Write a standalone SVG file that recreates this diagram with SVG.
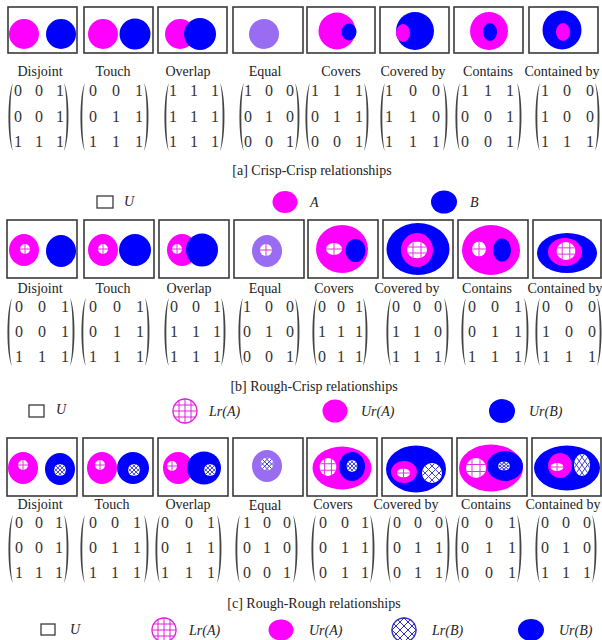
<svg xmlns="http://www.w3.org/2000/svg" xmlns:xlink="http://www.w3.org/1999/xlink" width="602" height="640" viewBox="0 0 602 640" font-family="'Liberation Serif', 'Times New Roman', serif">
<style>
.box{fill:#fff;stroke:#3a3a3a;stroke-width:1.6}
.lbl{font-family:'Liberation Serif','Times New Roman',serif;font-size:14px;fill:#222;text-anchor:middle}
.d{font-family:'Liberation Serif','Times New Roman',serif;font-size:16px;fill:#333;text-anchor:middle}
.cap{font-family:'Liberation Serif','Times New Roman',serif;font-size:14px;fill:#222;text-anchor:middle}
.leg{font-family:'Liberation Serif','Times New Roman',serif;font-size:14px;font-style:italic;fill:#222}
.pa{fill:#444}
.A{fill:#ff00ff}.B{fill:#0000ff}.E{fill:#9a6cf2}
.ga{fill:none;stroke:#e030e0;stroke-width:1;vector-effect:non-scaling-stroke}
.gb{fill:none;stroke:#4040d0;stroke-width:1;vector-effect:non-scaling-stroke}
</style>
<defs>
<clipPath id="c10"><circle r="10"/></clipPath>
<clipPath id="c13"><circle r="12.5"/></clipPath>
<symbol id="hA1" viewBox="-10 -10 20 20" preserveAspectRatio="none">
<circle r="10" fill="#fff"/>
<path class="ga" d="M0-10V10M-10 0H10"/>
</symbol>
<symbol id="hA2" viewBox="-10 -10 20 20" preserveAspectRatio="none">
<circle r="10" fill="#fff"/>
<path class="ga" clip-path="url(#c10)" d="M-4-10V10M4-10V10M-10-3.5H10M-10 3.5H10"/>
</symbol>
<symbol id="hB" viewBox="-10 -10 20 20" preserveAspectRatio="none">
<circle r="10" fill="#fff"/>
<path class="gb" clip-path="url(#c10)" d="M-15-8L15 22M-15-15L15 15M-15-22L15 8M-15 8L15-22M-15 15L15-15M-15 22L15-8"/>
</symbol>
<path id="pl" d="M3,0 C-3,10 -3,58 3,68 C-0.5,58 -0.5,10 3,0Z"/>
<path id="pr" d="M-3,0 C3,10 3,58 -3,68 C0.5,58 0.5,10 -3,0Z"/>
</defs>

<!-- ===== Row a: Crisp-Crisp ===== -->
<g id="a-disjoint">
<rect class="box" x="8" y="7" width="69" height="46"/>
<circle class="A" cx="24" cy="34" r="15"/><circle class="B" cx="61" cy="34" r="15"/>
<text class="lbl" x="40" y="76">Disjoint</text>
<use href="#pl" class="pa" x="10" y="83"/><use href="#pr" class="pa" x="67" y="83"/>
<text class="d" x="18 39 60" y="96">001</text><text class="d" x="18 39 60" y="122">001</text><text class="d" x="18 39 60" y="147">111</text>
</g>
<g id="a-touch">
<rect class="box" x="84" y="7" width="69" height="46"/>
<circle class="A" cx="103" cy="34" r="15"/><circle class="B" cx="135" cy="34" r="15.5"/>
<text class="lbl" x="113" y="76">Touch</text>
<use href="#pl" class="pa" x="82" y="83"/><use href="#pr" class="pa" x="147" y="83"/>
<text class="d" x="93 116 139" y="96">001</text><text class="d" x="93 116 139" y="122">011</text><text class="d" x="93 116 139" y="147">111</text>
</g>
<g id="a-overlap">
<rect class="box" x="158" y="7" width="69" height="46"/>
<circle class="A" cx="180" cy="34" r="15"/><circle class="B" cx="200" cy="34" r="16"/>
<text class="lbl" x="188" y="76">Overlap</text>
<use href="#pl" class="pa" x="166" y="83"/><use href="#pr" class="pa" x="223" y="83"/>
<text class="d" x="173 194 215" y="96">111</text><text class="d" x="173 194 215" y="122">111</text><text class="d" x="173 194 215" y="147">111</text>
</g>
<g id="a-equal">
<rect class="box" x="233" y="7" width="70" height="46"/>
<circle class="E" cx="264" cy="34" r="15"/>
<text class="lbl" x="265" y="76">Equal</text>
<use href="#pl" class="pa" x="241" y="83"/><use href="#pr" class="pa" x="298" y="83"/>
<text class="d" x="248 269 290" y="96">100</text><text class="d" x="248 269 290" y="122">010</text><text class="d" x="248 269 290" y="147">001</text>
</g>
<g id="a-covers">
<rect class="box" x="307" y="7" width="68" height="46"/>
<circle class="A" cx="337" cy="31" r="18.5"/><ellipse class="B" cx="349" cy="32" rx="7.5" ry="8.5"/>
<text class="lbl" x="341" y="76">Covers</text>
<use href="#pl" class="pa" x="307" y="83"/><use href="#pr" class="pa" x="367" y="83"/>
<text class="d" x="315 337 359" y="96">111</text><text class="d" x="315 337 359" y="122">011</text><text class="d" x="315 337 359" y="147">001</text>
</g>
<g id="a-coveredby">
<rect class="box" x="380" y="7" width="69" height="46"/>
<circle class="B" cx="415" cy="31" r="19"/><ellipse class="A" cx="403" cy="33" rx="7" ry="9"/>
<text class="lbl" x="413" y="76">Covered by</text>
<use href="#pl" class="pa" x="382" y="83"/><use href="#pr" class="pa" x="446" y="83"/>
<text class="d" x="389 413 436" y="96">100</text><text class="d" x="389 413 436" y="122">110</text><text class="d" x="389 413 436" y="147">111</text>
</g>
<g id="a-contains">
<rect class="box" x="454" y="7" width="69" height="46"/>
<circle class="A" cx="489" cy="31" r="19"/><ellipse class="B" cx="490" cy="32" rx="7" ry="9"/>
<text class="lbl" x="488" y="76">Contains</text>
<use href="#pl" class="pa" x="457" y="83"/><use href="#pr" class="pa" x="520" y="83"/>
<text class="d" x="465 488 510" y="96">111</text><text class="d" x="465 488 510" y="122">001</text><text class="d" x="465 488 510" y="147">001</text>
</g>
<g id="a-containedby">
<rect class="box" x="529" y="7" width="69" height="46"/>
<circle class="B" cx="562" cy="30" r="19.5"/><ellipse class="A" cx="563" cy="32" rx="7" ry="9"/>
<text class="lbl" x="562" y="76">Contained by</text>
<use href="#pl" class="pa" x="537" y="83"/><use href="#pr" class="pa" x="598" y="83"/>
<text class="d" x="545 567 590" y="96">100</text><text class="d" x="545 567 590" y="122">100</text><text class="d" x="545 567 590" y="147">111</text>
</g>
<text id="cap-a" class="cap" x="312" y="175">[a] Crisp-Crisp relationships</text>
<g id="legend-a">
<rect class="box" x="97" y="196" width="16" height="12" style="stroke-width:1.3"/>
<text class="leg" x="124" y="206">U</text>
<ellipse class="A" cx="285" cy="202" rx="12.5" ry="11"/>
<text class="leg" x="310" y="207">A</text>
<ellipse class="B" cx="444" cy="202" rx="13" ry="11.5"/>
<text class="leg" x="470" y="207">B</text>
</g>

<!-- ===== Row b: Rough-Crisp ===== -->
<g id="b-disjoint">
<rect class="box" x="7" y="220" width="70" height="58"/>
<ellipse class="A" cx="24" cy="250" rx="15" ry="16"/><use href="#hA1" x="20" y="244" width="10" height="10"/>
<ellipse class="B" cx="61" cy="251" rx="15" ry="16"/>
<text class="lbl" x="40" y="293">Disjoint</text>
<use href="#pl" class="pa" x="9" y="298"/><use href="#pr" class="pa" x="73" y="298"/>
<text class="d" x="19 42 65" y="312">001</text><text class="d" x="19 42 65" y="337">001</text><text class="d" x="19 42 65" y="362">111</text>
</g>
<g id="b-touch">
<rect class="box" x="84" y="220" width="70" height="58"/>
<ellipse class="A" cx="103" cy="250" rx="15" ry="16"/><use href="#hA1" x="98" y="244" width="10" height="10"/>
<ellipse class="B" cx="135" cy="250" rx="16" ry="16"/>
<text class="lbl" x="113" y="293">Touch</text>
<use href="#pl" class="pa" x="83" y="298"/><use href="#pr" class="pa" x="148" y="298"/>
<text class="d" x="93 117 140" y="312">001</text><text class="d" x="93 117 140" y="337">011</text><text class="d" x="93 117 140" y="362">111</text>
</g>
<g id="b-overlap">
<rect class="box" x="159" y="220" width="70" height="58"/>
<ellipse class="A" cx="182" cy="250" rx="15" ry="16"/><use href="#hA1" x="172" y="244" width="10" height="10"/>
<ellipse class="B" cx="202" cy="250" rx="16" ry="16.5"/>
<text class="lbl" x="189" y="293">Overlap</text>
<use href="#pl" class="pa" x="166" y="298"/><use href="#pr" class="pa" x="224" y="298"/>
<text class="d" x="174 196 217" y="312">001</text><text class="d" x="174 196 217" y="337">111</text><text class="d" x="174 196 217" y="362">111</text>
</g>
<g id="b-equal">
<rect class="box" x="234" y="220" width="70" height="58"/>
<ellipse class="E" cx="267" cy="251" rx="15" ry="16"/><use href="#hA1" x="260" y="244" width="12" height="12"/>
<text class="lbl" x="265" y="293">Equal</text>
<use href="#pl" class="pa" x="240" y="298"/><use href="#pr" class="pa" x="298" y="298"/>
<text class="d" x="247 269 290" y="312">100</text><text class="d" x="247 269 290" y="337">010</text><text class="d" x="247 269 290" y="362">001</text>
</g>
<g id="b-covers">
<rect class="box" x="308" y="220" width="70" height="58"/>
<ellipse class="A" cx="342" cy="249" rx="26" ry="24"/><use href="#hA1" x="326" y="243" width="16" height="12"/>
<ellipse class="B" cx="355.5" cy="250.5" rx="10" ry="11.5"/>
<text class="lbl" x="334" y="293">Covers</text>
<use href="#pl" class="pa" x="314" y="298"/><use href="#pr" class="pa" x="366" y="298"/>
<text class="d" x="322 341 359" y="312">001</text><text class="d" x="322 341 359" y="337">111</text><text class="d" x="322 341 359" y="362">011</text>
</g>
<g id="b-coveredby">
<rect class="box" x="383" y="220" width="70" height="58"/>
<ellipse class="B" cx="418" cy="249" rx="31.5" ry="26"/>
<ellipse class="A" cx="417" cy="250" rx="16" ry="17"/><use href="#hA2" x="407" y="241.5" width="20" height="17"/>
<text class="lbl" x="407" y="293">Covered by</text>
<use href="#pl" class="pa" x="388" y="298"/><use href="#pr" class="pa" x="447" y="298"/>
<text class="d" x="396 417 438" y="312">000</text><text class="d" x="396 417 438" y="337">110</text><text class="d" x="396 417 438" y="362">111</text>
</g>
<g id="b-contains">
<rect class="box" x="458" y="220" width="70" height="58"/>
<ellipse class="A" cx="491" cy="250" rx="29" ry="25"/><use href="#hA1" x="472" y="241.5" width="14" height="15"/>
<ellipse class="B" cx="502" cy="250" rx="9" ry="11.5"/>
<text class="lbl" x="487" y="293">Contains</text>
<use href="#pl" class="pa" x="463" y="298"/><use href="#pr" class="pa" x="527" y="298"/>
<text class="d" x="472 495 518" y="312">001</text><text class="d" x="472 495 518" y="337">011</text><text class="d" x="472 495 518" y="362">111</text>
</g>
<g id="b-containedby">
<rect class="box" x="533" y="220" width="68" height="58"/>
<ellipse class="B" cx="567" cy="253" rx="30" ry="20"/>
<ellipse class="A" cx="565" cy="252" rx="17" ry="14"/><use href="#hA2" x="556.5" y="242" width="19" height="18"/>
<text class="lbl" x="565" y="293">Contained by</text>
<use href="#pl" class="pa" x="537" y="298"/><use href="#pr" class="pa" x="600" y="298"/>
<text class="d" x="546 569 592" y="312">000</text><text class="d" x="546 569 592" y="337">100</text><text class="d" x="546 569 592" y="362">111</text>
</g>
<text id="cap-b" class="cap" x="314" y="391">[b] Rough-Crisp relationships</text>
<g id="legend-b">
<rect class="box" x="29" y="405" width="15" height="12" style="stroke-width:1.3"/>
<text class="leg" x="56" y="414">U</text>
<g transform="translate(185,411)">
<circle r="12.5" fill="#fff"/>
<path clip-path="url(#c13)" fill="none" stroke="#e020e0" stroke-width="1" d="M-6-13V13M0-13V13M6-13V13M-13-6H13M-13 0H13M-13 6H13"/>
<circle r="12" fill="none" stroke="#e020e0" stroke-width="1.3"/>
</g>
<text class="leg" x="209" y="416">Lr(A)</text>
<ellipse class="A" cx="335" cy="411" rx="12.5" ry="11.5"/>
<text class="leg" x="361" y="416">Ur(A)</text>
<ellipse class="B" cx="502" cy="411" rx="13" ry="12"/>
<text class="leg" x="529" y="416">Ur(B)</text>
</g>

<!-- ===== Row c: Rough-Rough ===== -->
<g id="c-disjoint">
<rect class="box" x="7" y="438" width="70" height="58"/>
<ellipse class="A" cx="23" cy="468" rx="15" ry="16"/><use href="#hA1" x="18" y="460" width="10" height="10"/>
<ellipse class="B" cx="60" cy="469" rx="15" ry="16"/><use href="#hB" x="54" y="464" width="12" height="12"/>
<text class="lbl" x="40" y="509">Disjoint</text>
<use href="#pl" class="pa" x="10" y="515"/><use href="#pr" class="pa" x="67" y="515"/>
<text class="d" x="19 39 59" y="528">001</text><text class="d" x="19 39 59" y="553">001</text><text class="d" x="19 39 59" y="578">111</text>
</g>
<g id="c-touch">
<rect class="box" x="83" y="438" width="70" height="58"/>
<ellipse class="A" cx="102" cy="468" rx="15" ry="16"/><use href="#hA1" x="95" y="460" width="10" height="10"/>
<ellipse class="B" cx="133" cy="468" rx="16" ry="16"/><use href="#hB" x="128" y="464" width="12" height="12"/>
<text class="lbl" x="112" y="509">Touch</text>
<use href="#pl" class="pa" x="82" y="515"/><use href="#pr" class="pa" x="147" y="515"/>
<text class="d" x="93 115 137" y="528">001</text><text class="d" x="93 115 137" y="553">011</text><text class="d" x="93 115 137" y="578">111</text>
</g>
<g id="c-overlap">
<rect class="box" x="158" y="438" width="70" height="58"/>
<ellipse class="A" cx="178" cy="468" rx="15" ry="16"/><use href="#hA1" x="167" y="461" width="10" height="10"/>
<ellipse class="B" cx="204" cy="468" rx="17" ry="16.5"/><use href="#hB" x="204" y="464" width="12" height="12"/>
<text class="lbl" x="188" y="509">Overlap</text>
<use href="#pl" class="pa" x="157" y="515"/><use href="#pr" class="pa" x="220" y="515"/>
<text class="d" x="165 189 211" y="528">001</text><text class="d" x="165 189 211" y="553">011</text><text class="d" x="165 189 211" y="578">111</text>
</g>
<g id="c-equal">
<rect class="box" x="233" y="438" width="70" height="58"/>
<ellipse class="E" cx="267" cy="466" rx="15" ry="16"/><use href="#hB" x="260.5" y="457.5" width="13" height="13"/>
<text class="lbl" x="265" y="510">Equal</text>
<use href="#pl" class="pa" x="237" y="515"/><use href="#pr" class="pa" x="296" y="515"/>
<text class="d" x="247 267 287" y="528">100</text><text class="d" x="247 267 287" y="553">010</text><text class="d" x="247 267 287" y="578">001</text>
</g>
<g id="c-covers">
<rect class="box" x="307" y="438" width="70" height="58"/>
<ellipse class="A" cx="342" cy="468" rx="29.5" ry="21.5"/><use href="#hA2" x="319.5" y="458" width="17" height="18"/>
<ellipse class="B" cx="352" cy="466.5" rx="13" ry="14.5"/><use href="#hB" x="346.5" y="460" width="11" height="12"/>
<text class="lbl" x="333" y="509">Covers</text>
<use href="#pl" class="pa" x="313" y="515"/><use href="#pr" class="pa" x="373" y="515"/>
<text class="d" x="323 345 365" y="528">001</text><text class="d" x="323 345 365" y="553">011</text><text class="d" x="323 345 365" y="578">011</text>
</g>
<g id="c-coveredby">
<rect class="box" x="382" y="438" width="70" height="58"/>
<ellipse class="B" cx="416" cy="469" rx="30" ry="23.5"/>
<ellipse class="A" cx="404" cy="472" rx="13" ry="11"/><use href="#hA1" x="397" y="468.5" width="13" height="9"/>
<use href="#hB" x="422" y="463" width="20" height="20"/>
<text class="lbl" x="406" y="509">Covered by</text>
<use href="#pl" class="pa" x="388" y="515"/><use href="#pr" class="pa" x="448" y="515"/>
<text class="d" x="397 418 439" y="528">000</text><text class="d" x="397 418 439" y="553">011</text><text class="d" x="397 418 439" y="578">011</text>
</g>
<g id="c-contains">
<rect class="box" x="457" y="438" width="70" height="58"/>
<ellipse class="A" cx="491" cy="468" rx="32" ry="23.5"/><use href="#hA2" x="466" y="458" width="20" height="20"/>
<ellipse class="B" cx="505" cy="466" rx="18" ry="15"/><use href="#hB" x="498" y="461.5" width="12" height="9"/>
<text class="lbl" x="486" y="509">Contains</text>
<use href="#pl" class="pa" x="457" y="515"/><use href="#pr" class="pa" x="520" y="515"/>
<text class="d" x="465 489 512" y="528">001</text><text class="d" x="465 489 512" y="553">011</text><text class="d" x="465 489 512" y="578">001</text>
</g>
<g id="c-containedby">
<rect class="box" x="532" y="438" width="69" height="58"/>
<ellipse class="B" cx="567" cy="468" rx="33" ry="22.5"/>
<ellipse class="A" cx="560" cy="465.5" rx="12" ry="12.5"/><use href="#hA1" x="550.5" y="463" width="13" height="8"/>
<use href="#hB" x="574" y="454" width="16" height="22"/>
<text class="lbl" x="563" y="509">Contained by</text>
<use href="#pl" class="pa" x="537" y="515"/><use href="#pr" class="pa" x="595" y="515"/>
<text class="d" x="545 566 587" y="528">000</text><text class="d" x="545 566 587" y="553">010</text><text class="d" x="545 566 587" y="578">111</text>
</g>
<text id="cap-c" class="cap" x="314" y="608">[c] Rough-Rough relationships</text>
<g id="legend-c">
<rect class="box" x="41" y="624" width="14" height="11" style="stroke-width:1.3"/>
<text class="leg" x="70" y="634">U</text>
<g transform="translate(164,630)">
<circle r="12.5" fill="#fff"/>
<path clip-path="url(#c13)" fill="none" stroke="#e020e0" stroke-width="1" d="M-6-13V13M0-13V13M6-13V13M-13-6H13M-13 0H13M-13 6H13"/>
<circle r="12" fill="none" stroke="#e020e0" stroke-width="1.3"/>
</g>
<text class="leg" x="189" y="635">Lr(A)</text>
<ellipse class="A" cx="281" cy="630" rx="12.5" ry="10.5"/>
<text class="leg" x="309" y="635">Ur(A)</text>
<g transform="translate(404,630)">
<circle r="12.5" fill="#fff"/>
<path clip-path="url(#c13)" fill="none" stroke="#3030c8" stroke-width="1" d="M-14-2L14 26M-14-10L14 18M-14-18L14 10M-14-26L14 2M-14 2L14-26M-14 10L14-18M-14 18L14-10M-14 26L14-2"/>
<circle r="12" fill="none" stroke="#3030c8" stroke-width="1.3"/>
</g>
<text class="leg" x="432" y="635">Lr(B)</text>
<ellipse class="B" cx="531" cy="630" rx="13" ry="11"/>
<text class="leg" x="559" y="635">Ur(B)</text>
</g>
</svg>
